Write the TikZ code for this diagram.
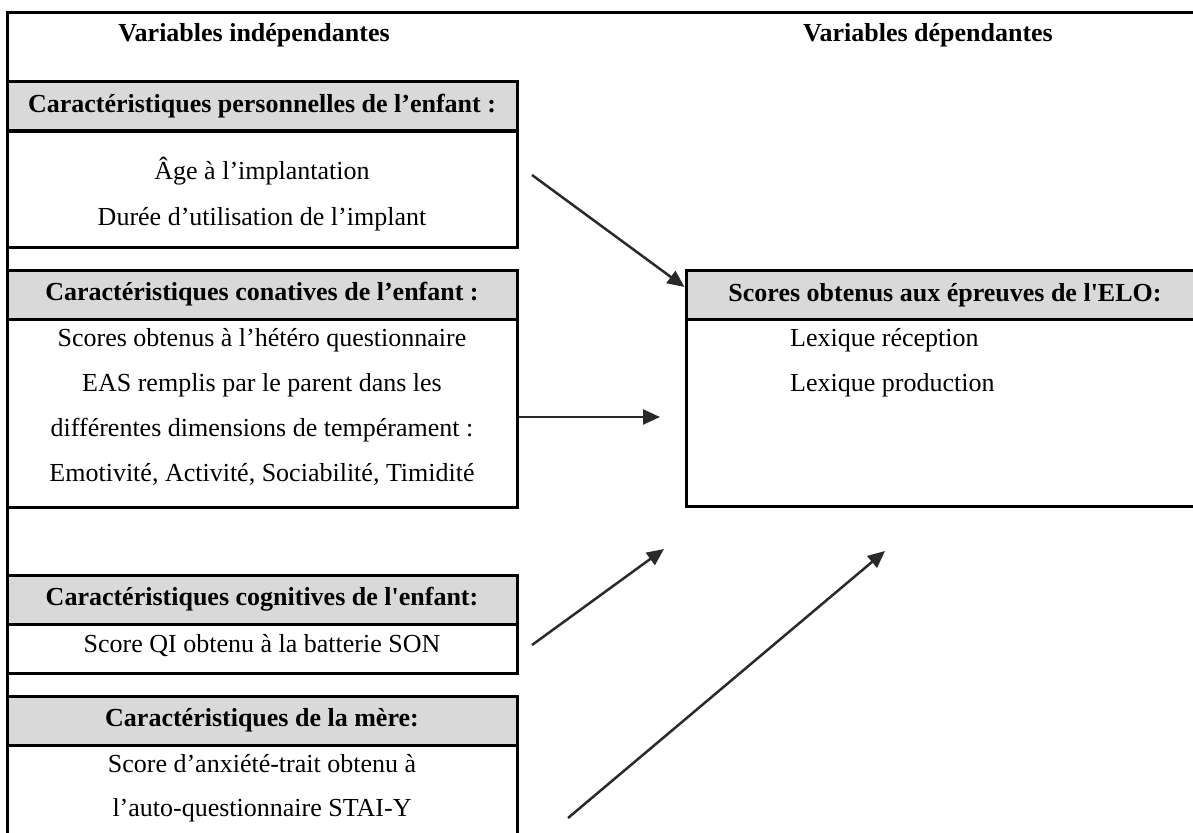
\documentclass[tikz,border=0pt]{standalone}
\usepackage{fontspec}
\setmainfont{Liberation Serif}
\usepackage{tikz}
\usetikzlibrary{arrows.meta}
\definecolor{bande}{HTML}{D9D9D9}
\definecolor{fleche}{HTML}{2A2A2A}

\begin{document}
\begin{tikzpicture}[x=1pt,y=-1pt,
  txt/.style={font=\fontsize{26}{30}\selectfont,inner sep=0pt},
  titre/.style={txt,font=\fontsize{26}{30}\selectfont\bfseries,anchor=base},
  entete/.style={draw,line width=3pt,fill=bande,minimum width=510pt,minimum height=49pt,inner sep=0pt,font=\fontsize{26}{30}\selectfont\bfseries},
  cadre/.style={draw,line width=3pt,minimum width=510pt,inner sep=0pt},
  ligne/.style={txt,anchor=base},
  lien/.style={fleche,line width=2.5pt,-{Triangle[length=17pt,width=15pt]}}]
  \useasboundingbox (0,0) rectangle (1193,832);
  \clip (0,0) rectangle (1193,832);
  \fill[white] (0,0) rectangle (1193,832);
  \draw[line width=3pt] (1193,13) -- (7,13) -- (7,832);
  \node[titre] (vi) at (254,42) {Variables indépendantes};
  \node[titre] (vd) at (928,42) {Variables dépendantes};

  \node[entete] (perso) at (262,106.5) {Caractéristiques personnelles de l’enfant :};
  \node[cadre,minimum height=116pt] (persoC) at (262,189) {};
  \node[ligne] (age) at (262,179) {Âge à l’implantation};
  \node[ligne] (duree) at (262,225) {Durée d’utilisation de l’implant};

  \node[entete] (conat) at (262,294.5) {Caractéristiques conatives de l’enfant :};
  \node[cadre,minimum height=188pt] (conatC) at (262,413) {};
  \node[ligne] (eas1) at (262,346) {Scores obtenus à l’hétéro questionnaire};
  \node[ligne] (eas2) at (262,391) {EAS remplis par le parent dans les};
  \node[ligne] (eas3) at (262,436) {différentes dimensions de tempérament :};
  \node[ligne] (eas4) at (262,481) {Emotivité, Activité, Sociabilité, Timidité};

  \node[entete] (cogn) at (262,599.5) {Caractéristiques cognitives de l\textquotesingle enfant:};
  \node[cadre,minimum height=49pt] (cognC) at (262,648.5) {};
  \node[ligne] (qi) at (262,652) {Score QI obtenu à la batterie SON};

  \node[entete] (mere) at (262,720.5) {Caractéristiques de la mère:};
  \node[cadre,minimum height=125pt] (mereC) at (262,807.5) {};
  \node[ligne] (stai1) at (262,772) {Score d’anxiété-trait obtenu à};
  \node[ligne] (stai2) at (262,816) {l’auto-questionnaire STAI-Y};

  \node[entete,minimum width=518pt] (elo) at (945,295) {Scores obtenus aux épreuves de l\textquotesingle ELO:};
  \node[cadre,minimum width=518pt,minimum height=187pt] (eloC) at (945,412.5) {};
  \node[ligne,anchor=base west] (lexr) at (790,346) {Lexique réception};
  \node[ligne,anchor=base west] (lexp) at (790,391) {Lexique production};

  \coordinate (d1) at (532,175);
  \coordinate (f2) at (660,417);
  \coordinate (d3) at (532,645); \coordinate (f3) at (664,549);
  \coordinate (d4) at (568,818); \coordinate (f4) at (885,551);
  \draw[lien] (d1) -- ([yshift=8pt]elo.west);
  \draw[lien] ([yshift=-4pt]conatC.east) -- (f2);
  \draw[lien] (d3) -- (f3);
  \draw[lien] (d4) -- (f4);
\end{tikzpicture}
\end{document}
